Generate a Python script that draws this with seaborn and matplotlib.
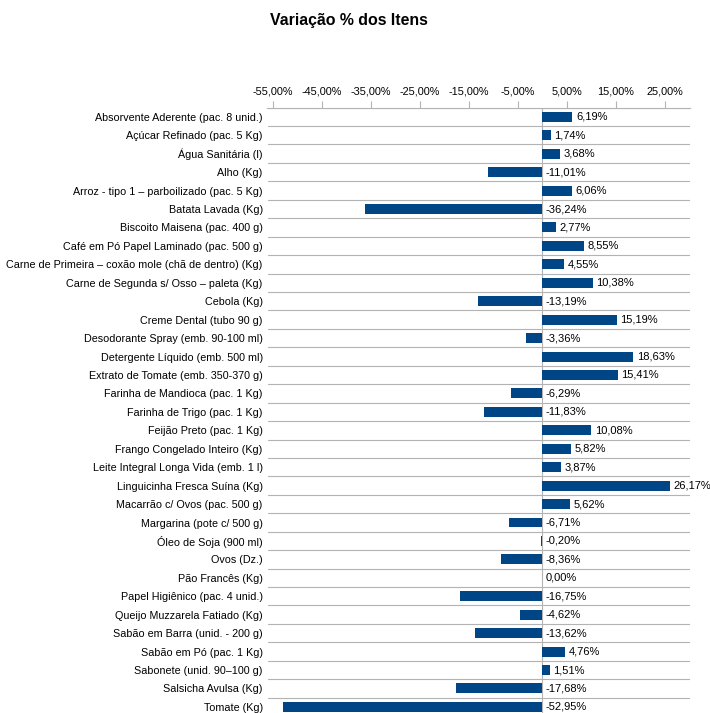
import matplotlib
matplotlib.use("Agg")
import matplotlib.pyplot as plt
import seaborn as sns
import pandas as pd
from matplotlib.ticker import FixedLocator, FuncFormatter

categories = [
    "Absorvente Aderente (pac. 8 unid.)",
    "Açúcar Refinado (pac. 5 Kg)",
    "Água Sanitária (l)",
    "Alho (Kg)",
    "Arroz - tipo 1 – parboilizado (pac. 5 Kg)",
    "Batata Lavada (Kg)",
    "Biscoito Maisena (pac. 400 g)",
    "Café em Pó Papel Laminado (pac. 500 g)",
    "Carne de Primeira – coxão mole (chã de dentro) (Kg)",
    "Carne de Segunda s/ Osso – paleta (Kg)",
    "Cebola (Kg)",
    "Creme Dental (tubo 90 g)",
    "Desodorante Spray (emb. 90-100 ml)",
    "Detergente Líquido (emb. 500 ml)",
    "Extrato de Tomate (emb. 350-370 g)",
    "Farinha de Mandioca (pac. 1 Kg)",
    "Farinha de Trigo (pac. 1 Kg)",
    "Feijão Preto (pac. 1 Kg)",
    "Frango Congelado Inteiro (Kg)",
    "Leite Integral Longa Vida (emb. 1 l)",
    "Linguicinha Fresca Suína (Kg)",
    "Macarrão c/ Ovos (pac. 500 g)",
    "Margarina (pote c/ 500 g)",
    "Óleo de Soja (900 ml)",
    "Ovos (Dz.)",
    "Pão Francês (Kg)",
    "Papel Higiênico (pac. 4 unid.)",
    "Queijo Muzzarela Fatiado (Kg)",
    "Sabão em Barra (unid. - 200 g)",
    "Sabão em Pó (pac. 1 Kg)",
    "Sabonete (unid. 90–100 g)",
    "Salsicha Avulsa (Kg)",
    "Tomate (Kg)",
]
values = [6.19, 1.74, 3.68, -11.01, 6.06, -36.24, 2.77, 8.55, 4.55, 10.38,
          -13.19, 15.19, -3.36, 18.63, 15.41, -6.29, -11.83, 10.08, 5.82, 3.87,
          26.17, 5.62, -6.71, -0.20, -8.36, 0.00, -16.75, -4.62, -13.62, 4.76,
          1.51, -17.68, -52.95]
x_ticks = [-55, -45, -35, -25, -15, -5, 5, 15, 25]
title = "Variação % dos Itens"

sns.set_theme(style="white")
plt.rcParams["font.family"] = ["Liberation Sans", "DejaVu Sans"]

df = pd.DataFrame({"item": categories, "valor": values})

W, H = 710, 713
fig = plt.figure(figsize=(W / 100, H / 100), dpi=100)
n = len(categories)
top_px = 107.6
row_h = 18.44
bottom_px = top_px + n * row_h
left_px, right_px = 267.5, 690
ax = fig.add_axes([left_px / W, (H - bottom_px) / H,
                   (right_px - left_px) / W, (bottom_px - top_px) / H])

sns.barplot(data=df, x="valor", y="item", orient="h", color="#004586",
            saturation=1, width=0.54, ax=ax, edgecolor="none")

ax.set_xlim(-56.1, 30.2)
ax.set_ylim(n - 0.5, -0.5)

ax.xaxis.set_ticks_position("top")
ax.xaxis.set_label_position("top")
ax.xaxis.set_major_locator(FixedLocator(x_ticks))
ax.xaxis.set_major_formatter(FuncFormatter(lambda v, p: f"{v:.2f}%".replace(".", ",")))
ax.tick_params(axis="x", which="major", direction="out", length=5, width=0.8,
               color="#b3b3b3", labelsize=7.8, pad=3, labelcolor="#000000",
               top=True, bottom=False)
ax.tick_params(axis="y", which="major", length=0, labelsize=7.75, pad=3.5,
               labelcolor="#000000")
ax.set_yticks([i + 0.5 for i in range(-1, n)], minor=True)
ax.tick_params(axis="y", which="minor", length=0)
ax.grid(False)
ax.yaxis.grid(True, which="minor", color="#b3b3b3", linewidth=0.8)
ax.axvline(0, color="#b3b3b3", linewidth=0.8, zorder=0.5)
ax.set_xlabel("")
ax.set_ylabel("")
for s in ["left", "right", "bottom"]:
    ax.spines[s].set_visible(False)
ax.spines["top"].set_color("#b3b3b3")
ax.spines["top"].set_linewidth(0.8)

for i, v in enumerate(values):
    xpos = v if v > 0 else 0
    ax.annotate(f"{v:.2f}%".replace(".", ","), xy=(xpos, i), xytext=(2.5, 0),
                textcoords="offset points", va="center", ha="left",
                fontsize=8.0, color="#000000")

fig.text(349 / W, 1 - 20 / H, title, ha="center", va="center",
         fontsize=11.4, fontweight="bold", color="#000000")

fig.savefig("out.png", dpi=100)
